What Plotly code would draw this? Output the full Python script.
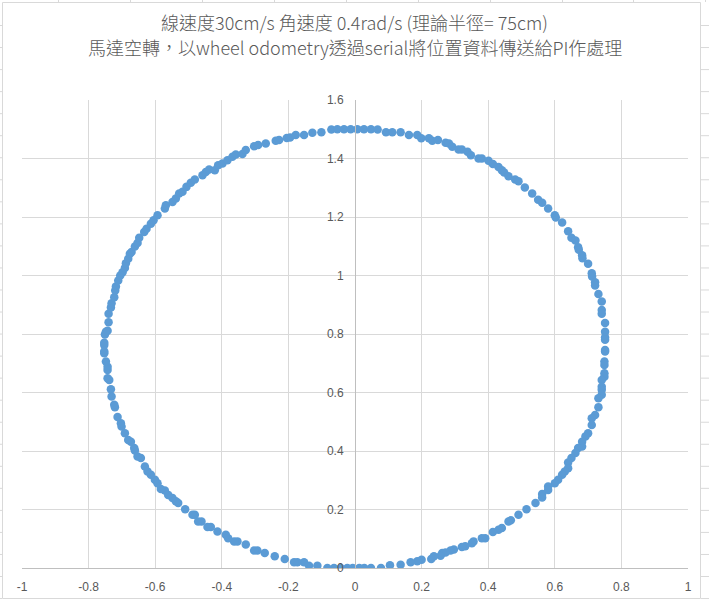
import plotly.graph_objects as go

# ---- data (x, y in metres) ----
# upper-left arc (from left edge going up to the top)
x_tl = [-0.751, -0.743, -0.740, -0.740, -0.733, -0.731, -0.723, -0.720, -0.718, -0.711,
        -0.705, -0.698, -0.691, -0.688, -0.681, -0.676, -0.671, -0.661, -0.653, -0.648,
        -0.633, -0.626, -0.613, -0.605, -0.593, -0.571, -0.568, -0.548, -0.538, -0.528,
        -0.518, -0.506, -0.493, -0.481, -0.458, -0.448, -0.438, -0.421, -0.411, -0.398,
        -0.383, -0.368, -0.358, -0.338, -0.328, -0.303, -0.291, -0.268, -0.238, -0.228,
        -0.205, -0.195, -0.178, -0.153, -0.128, -0.101, -0.071, -0.053, -0.033, -0.013,
        0.007, 0.027]
y_tl = [0.798, 0.811, 0.840, 0.869, 0.891, 0.905, 0.926, 0.949, 0.962, 0.983,
        1.000, 1.011, 1.026, 1.042, 1.057, 1.074, 1.080, 1.099, 1.111, 1.129,
        1.149, 1.160, 1.177, 1.189, 1.206, 1.229, 1.240, 1.251, 1.263, 1.280,
        1.286, 1.303, 1.317, 1.328, 1.343, 1.354, 1.362, 1.360, 1.377, 1.383,
        1.394, 1.406, 1.414, 1.415, 1.429, 1.442, 1.446, 1.451, 1.461, 1.463,
        1.470, 1.472, 1.480, 1.480, 1.488, 1.490, 1.499, 1.500, 1.500, 1.500,
        1.500, 1.500]

# upper-right arc (from the top going down the right side)
x_tr = [0.048, 0.068, 0.093, 0.112, 0.137, 0.162, 0.187, 0.199, 0.222, 0.232,
        0.249, 0.272, 0.282, 0.292, 0.311, 0.321, 0.338, 0.348, 0.371, 0.381,
        0.401, 0.414, 0.431, 0.441, 0.448, 0.461, 0.481, 0.491, 0.510, 0.532,
        0.550, 0.562, 0.580, 0.600, 0.603, 0.622, 0.640, 0.650, 0.662, 0.670,
        0.672, 0.682, 0.683, 0.700, 0.711, 0.712, 0.721, 0.721, 0.731, 0.741,
        0.741, 0.741, 0.751, 0.751, 0.751]
y_tr = [1.500, 1.499, 1.490, 1.490, 1.490, 1.480, 1.480, 1.469, 1.469, 1.461,
        1.463, 1.454, 1.451, 1.440, 1.431, 1.431, 1.423, 1.411, 1.400, 1.400,
        1.392, 1.381, 1.371, 1.360, 1.352, 1.339, 1.328, 1.322, 1.301, 1.280,
        1.259, 1.249, 1.229, 1.206, 1.198, 1.181, 1.151, 1.129, 1.120, 1.097,
        1.088, 1.069, 1.059, 1.040, 1.008, 0.997, 0.977, 0.966, 0.937, 0.911,
        0.882, 0.869, 0.838, 0.808, 0.789]

# lower-right arc (from the right edge going down to the bottom)
x_br = [0.751, 0.751, 0.751, 0.749, 0.749, 0.749, 0.749, 0.741, 0.741, 0.741,
        0.741, 0.731, 0.731, 0.721, 0.711, 0.711, 0.700, 0.692, 0.682, 0.682,
        0.670, 0.662, 0.650, 0.640, 0.640, 0.630, 0.622, 0.610, 0.600, 0.580,
        0.580, 0.562, 0.562, 0.542, 0.515, 0.491, 0.468, 0.461, 0.441, 0.431,
        0.414, 0.391, 0.381, 0.356, 0.351, 0.331, 0.321, 0.297, 0.287, 0.272,
        0.262, 0.257, 0.237, 0.229, 0.200, 0.187, 0.167, 0.137, 0.105, 0.078,
        0.048, 0.028, 0.013, -0.007]
y_br = [0.780, 0.745, 0.740, 0.706, 0.694, 0.666, 0.654, 0.643, 0.620, 0.609,
        0.592, 0.580, 0.550, 0.523, 0.512, 0.489, 0.461, 0.450, 0.432, 0.415,
        0.410, 0.393, 0.376, 0.361, 0.341, 0.330, 0.319, 0.302, 0.290, 0.279,
        0.267, 0.253, 0.241, 0.222, 0.201, 0.182, 0.163, 0.159, 0.137, 0.131,
        0.123, 0.102, 0.102, 0.091, 0.085, 0.074, 0.072, 0.063, 0.060, 0.053,
        0.051, 0.042, 0.040, 0.031, 0.028, 0.023, 0.020, 0.011, 0.009, 0.000,
        0.000, 0.000, 0.000, 0.000]

# lower-left arc (from the bottom going up the left side)
x_bl = [-0.023, -0.043, -0.063, -0.083, -0.113, -0.138, -0.153, -0.173, -0.183, -0.211,
        -0.241, -0.271, -0.293, -0.303, -0.328, -0.353, -0.363, -0.381, -0.388, -0.413,
        -0.433, -0.443, -0.461, -0.471, -0.481, -0.488, -0.510, -0.531, -0.538, -0.548,
        -0.561, -0.571, -0.583, -0.593, -0.601, -0.613, -0.623, -0.631, -0.643, -0.653,
        -0.661, -0.663, -0.673, -0.681, -0.691, -0.701, -0.703, -0.713, -0.721, -0.723,
        -0.731, -0.733, -0.738, -0.743, -0.743, -0.743, -0.748, -0.753, -0.753, -0.753,
        -0.753, -0.748]
y_bl = [0.000, 0.000, 0.000, 0.000, 0.008, 0.008, 0.020, 0.020, 0.020, 0.031,
        0.040, 0.051, 0.060, 0.060, 0.080, 0.091, 0.091, 0.102, 0.114, 0.125,
        0.140, 0.140, 0.159, 0.159, 0.182, 0.182, 0.201, 0.222, 0.228, 0.239,
        0.250, 0.265, 0.270, 0.290, 0.302, 0.319, 0.330, 0.347, 0.376, 0.381,
        0.402, 0.410, 0.432, 0.438, 0.461, 0.484, 0.495, 0.516, 0.550, 0.558,
        0.586, 0.611, 0.643, 0.649, 0.677, 0.688, 0.706, 0.734, 0.740, 0.762,
        0.770, 0.808]

x_tick_vals = [-1, -0.8, -0.6, -0.4, -0.2, 0, 0.2, 0.4, 0.6, 0.8, 1]
x_tick_text = ["-1", "-0.8", "-0.6", "-0.4", "-0.2", "0", "0.2", "0.4", "0.6", "0.8", "1"]
y_tick_vals = [0, 0.2, 0.4, 0.6, 0.8, 1.0, 1.2, 1.4, 1.6]
y_tick_text = ["0", "0.2", "0.4", "0.6", "0.8", "1", "1.2", "1.4", "1.6"]

title_lines = ["線速度30cm/s 角速度 0.4rad/s (理論半徑= 75cm)",
               "馬達空轉，以wheel odometry透過serial將位置資料傳送給PI作處理"]

# ---- layout constants ----
W, H = 709, 600
ML, MR, MT, MB = 22, 21, 100, 32
PW, PH = W - ML - MR, H - MT - MB
GRID = "#d9d9d9"
AXIS = "#bfbfbf"
TEXT = "#595959"
BLUE = "#5b9bd5"
CJK = "Noto Sans CJK TC, Noto Sans, sans-serif"


def px(xp):
    return (xp - ML) / PW


def py(yp):
    return (H - MB - yp) / PH


xs = x_tl + x_tr + x_br + x_bl
ys = y_tl + y_tr + y_br + y_bl

fig = go.Figure(go.Scatter(
    x=xs, y=ys, mode="markers",
    marker=dict(color=BLUE, size=8.5, line=dict(width=0)),
    showlegend=False, hoverinfo="x+y",
))

shapes = []
# chart-area border
shapes.append(dict(type="rect", xref="paper", yref="paper",
                   x0=px(2.5), x1=px(700.5), y0=py(598.5), y1=py(2.5),
                   line=dict(color="#d9d9d9", width=1), layer="below"))
# spreadsheet cell lines peeking around the chart
for cx in [58, 130, 202, 274, 346, 418, 490, 562, 633, 705]:
    shapes.append(dict(type="line", xref="paper", yref="paper",
                       x0=px(cx + 0.5), x1=px(cx + 0.5), y0=py(2), y1=py(0),
                       line=dict(color="#d9d9d9", width=1)))
for k in range(27):
    ry = 25 + 22.04 * k + 0.5
    shapes.append(dict(type="line", xref="paper", yref="paper",
                       x0=px(0), x1=px(2), y0=py(ry), y1=py(ry),
                       line=dict(color="#d9d9d9", width=1)))
    shapes.append(dict(type="line", xref="paper", yref="paper",
                       x0=px(701), x1=px(709), y0=py(ry), y1=py(ry),
                       line=dict(color="#d9d9d9", width=1)))

annotations = []
for line_text, cy in zip(title_lines, [22, 47]):
    annotations.append(dict(text=line_text, showarrow=False,
                            xref="paper", yref="paper",
                            x=px(354.5), y=py(cy), xanchor="center", yanchor="middle",
                            font=dict(size=18, color=TEXT, family=CJK, weight=300)))

fig.update_layout(
    width=W, height=H, autosize=False,
    margin=dict(l=ML, r=MR, t=MT, b=MB, pad=0, autoexpand=False),
    paper_bgcolor="white", plot_bgcolor="white",
    font=dict(family=CJK, color=TEXT, size=12),
    xaxis=dict(range=[-1, 1], tickvals=x_tick_vals, ticktext=x_tick_text,
               showgrid=True, gridcolor=GRID, gridwidth=1,
               zeroline=False, showline=True, linecolor=AXIS, linewidth=1,
               ticks="", ticklabelstandoff=8, automargin=False,
               tickfont=dict(size=12, color=TEXT,
                             family="Liberation Sans, Noto Sans, sans-serif"),
               fixedrange=True),
    yaxis=dict(range=[0, 1.6], tickvals=y_tick_vals, ticktext=y_tick_text,
               anchor="free", position=0.5, side="left",
               showgrid=True, gridcolor=GRID, gridwidth=1,
               zeroline=False, showline=True, linecolor=AXIS, linewidth=1,
               ticks="", ticklabelstandoff=9, automargin=False,
               tickfont=dict(size=12, color=TEXT,
                             family="Liberation Sans, Noto Sans, sans-serif"),
               fixedrange=True),
    shapes=shapes,
    annotations=annotations,
)

fig.write_html("out.html")
